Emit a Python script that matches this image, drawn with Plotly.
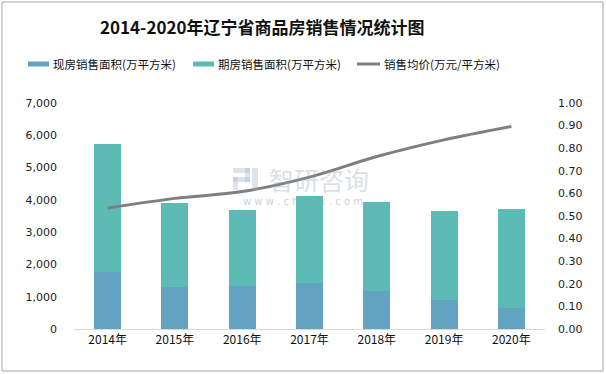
import plotly.graph_objects as go

years = ["2014年", "2015年", "2016年", "2017年", "2018年", "2019年", "2020年"]
spot_area = [1768, 1303, 1334, 1427, 1179, 900, 651]
total_area = [5738, 3908, 3691, 4125, 3939, 3660, 3722]
presale_area = [t - s for t, s in zip(total_area, spot_area)]
avg_price = [0.535, 0.578, 0.608, 0.672, 0.763, 0.837, 0.896]

series_names = ["现房销售面积(万平方米)", "期房销售面积(万平方米)", "销售均价(万元/平方米)"]
series_colors = ["#63A2C1", "#5CBCB5", "#7F7F7F"]

left_ticks = [0, 1000, 2000, 3000, 4000, 5000, 6000, 7000]
left_labels = ["0", "1,000", "2,000", "3,000", "4,000", "5,000", "6,000", "7,000"]
right_ticks = [i / 10 for i in range(11)]
right_labels = [f"{v:.2f}" for v in right_ticks]

W, H = 606, 374
L, R, T, B = 74, 61, 103, 45
PW, PH = W - L - R, H - T - B


def px(x):
    return (x - L) / PW


def py(y):
    return (H - B - y) / PH


num_font = dict(family="DejaVu Sans, Verdana, sans-serif", size=11, color="#222222")
cjk = "Noto Sans CJK SC, sans-serif"

fig = go.Figure()
fig.add_trace(go.Bar(x=years, y=spot_area, name=series_names[0], showlegend=False,
                     marker=dict(color=series_colors[0], line=dict(width=0))))
fig.add_trace(go.Bar(x=years, y=presale_area, name=series_names[1], showlegend=False,
                     marker=dict(color=series_colors[1], line=dict(width=0))))
fig.add_trace(go.Scatter(x=years, y=avg_price, name=series_names[2], yaxis="y2", showlegend=False,
                         mode="lines", line=dict(color=series_colors[2], width=3, shape="spline")))

shapes = [dict(type="rect", xref="paper", yref="paper", x0=px(2), x1=px(603),
               y0=py(371), y1=py(2), line=dict(color="#A6A6A6", width=1))]
annotations = []

# legend (drawn manually to match the wide swatches)
legend_x = [(28, 49), (193, 214), (357, 380)]
ly = 64
for i, (x0, x1) in enumerate(legend_x):
    if i < 2:
        shapes.append(dict(type="rect", xref="paper", yref="paper", x0=px(x0), x1=px(x1),
                           y0=py(ly + 2.5), y1=py(ly - 2.5), fillcolor=series_colors[i],
                           line=dict(width=0)))
    else:
        shapes.append(dict(type="line", xref="paper", yref="paper", x0=px(x0), x1=px(x1),
                           y0=py(ly), y1=py(ly), line=dict(color=series_colors[i], width=3)))
    annotations.append(dict(text=series_names[i], x=px(x1 + 2), y=py(ly), xref="paper", yref="paper",
                            xanchor="left", yanchor="middle", showarrow=False,
                            font=dict(family=cjk, size=11.5, color="#111111")))

# watermark logo blocks
wm = "rgba(160,175,200,0.35)"
for (x0, y0, x1, y1) in [(233, 168, 250, 173), (245, 168, 250, 182), (233, 177, 250, 182),
                         (233, 177, 238, 190), (252, 168, 258, 190)]:
    shapes.append(dict(type="rect", xref="paper", yref="paper", x0=px(x0), x1=px(x1),
                       y0=py(y1), y1=py(y0), fillcolor=wm, line=dict(width=0), layer="above"))

annotations += [
    dict(text="<b>2014-2020年辽宁省商品房销售情况统计图</b>", x=px(262), y=py(27),
         xref="paper", yref="paper", xanchor="center", yanchor="middle", showarrow=False,
         font=dict(family=cjk, size=17, color="#111111")),
    dict(text="智研咨询", x=px(319), y=py(179), xref="paper", yref="paper", showarrow=False,
         font=dict(family=cjk, size=25, color="rgba(150,160,180,0.35)")),
    dict(text="w w w . c h y x x . c o m", x=px(303), y=py(201), xref="paper", yref="paper",
         showarrow=False, font=dict(family="DejaVu Sans", size=10, color="rgba(150,160,180,0.5)")),
]

fig.update_layout(
    width=W, height=H,
    barmode="stack", bargap=0.6,
    paper_bgcolor="white", plot_bgcolor="white",
    margin=dict(l=L, r=R, t=T, b=B, autoexpand=False),
    showlegend=False,
    hovermode=False,
    xaxis=dict(showgrid=False, showline=True, linecolor="#D9D9D9", linewidth=1,
               ticks="", tickfont=dict(family=cjk, size=12, color="#111111"),
               automargin=False),
    yaxis=dict(range=[0, 7000], tickvals=left_ticks, ticktext=left_labels,
               showgrid=False, zeroline=False, showline=False, ticks="",
               tickfont=num_font, ticklabelstandoff=16, automargin=False),
    yaxis2=dict(range=[0, 1.0], tickvals=right_ticks, ticktext=right_labels,
                overlaying="y", side="right", showgrid=False, zeroline=False,
                showline=False, ticks="", tickfont=num_font, ticklabelstandoff=12,
                automargin=False),
    shapes=shapes,
    annotations=annotations,
)

fig.write_html("out.html", config={"displayModeBar": False},
               post_script="document.body.style.margin='0';document.body.style.overflow='hidden';")
